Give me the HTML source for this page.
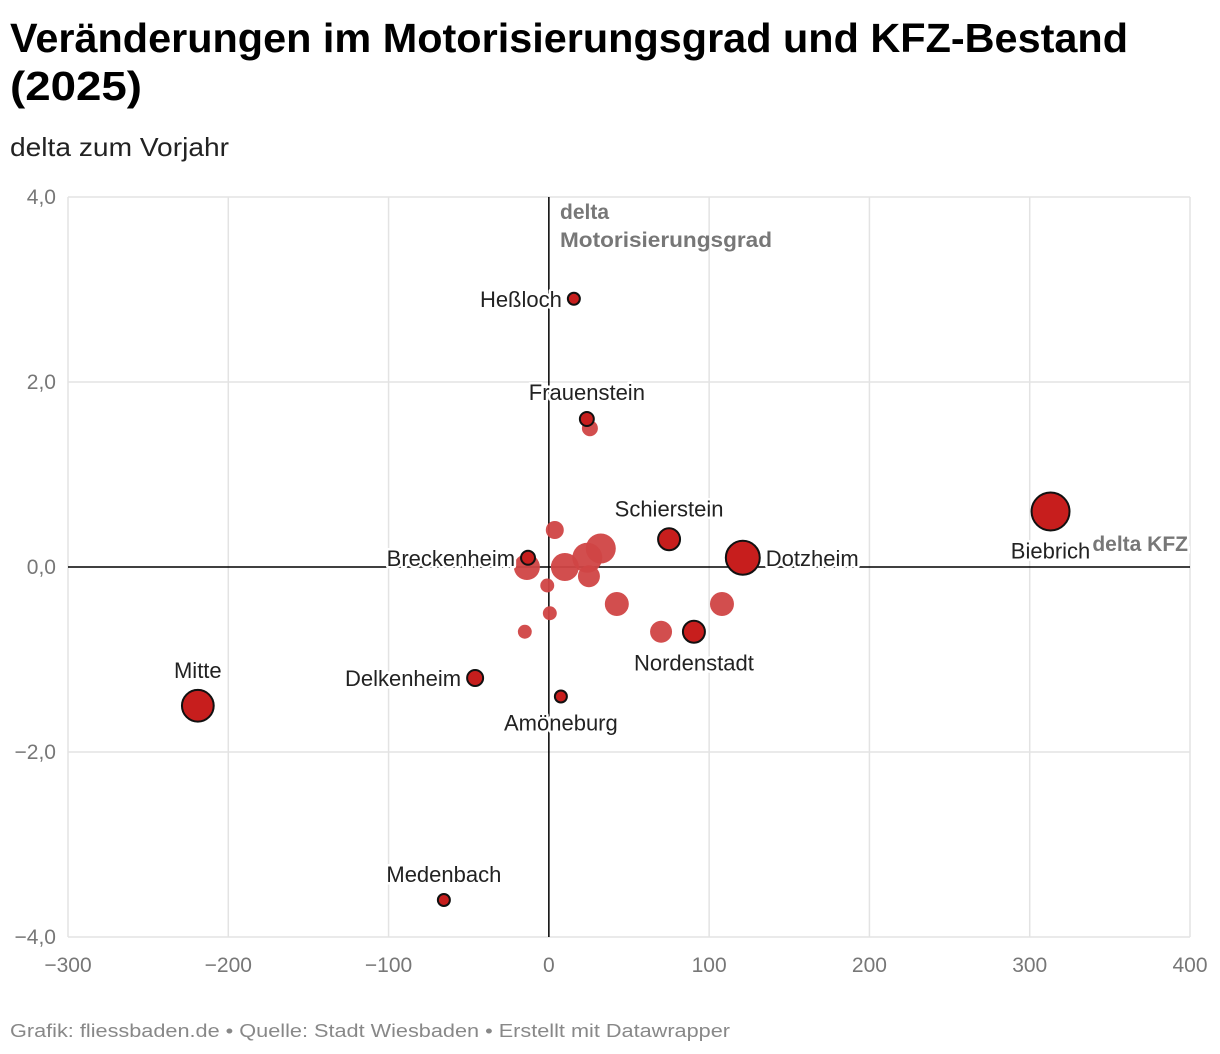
<!DOCTYPE html>
<html><head><meta charset="utf-8"><style>
html,body{margin:0;padding:0;background:#fff;}
svg{display:block;font-family:"Liberation Sans",sans-serif;}
.tick{fill:#777;font-size:21px;}
.lbl{fill:#222;font-size:22px;paint-order:stroke;stroke:#fff;stroke-width:5px;stroke-linejoin:round;}
</style></head><body>
<svg id="chart" width="1220" height="1054" viewBox="0 0 1220 1054">
<text x="10" y="52" font-size="41" font-weight="bold" fill="#000" textLength="1118" lengthAdjust="spacingAndGlyphs">Veränderungen im Motorisierungsgrad und KFZ-Bestand</text>
<text x="10" y="100" font-size="41" font-weight="bold" fill="#000" textLength="132" lengthAdjust="spacingAndGlyphs">(2025)</text>
<text x="10" y="156" font-size="26" fill="#222" textLength="219" lengthAdjust="spacingAndGlyphs">delta zum Vorjahr</text>
<g id="grid"></g>
<g id="axes"></g>
<g id="points"></g>
<g id="labels"></g>
<text x="560" y="219" font-size="21" font-weight="bold" fill="#777"><tspan x="560">delta</tspan><tspan x="560" dy="28" textLength="212" lengthAdjust="spacingAndGlyphs">Motorisierungsgrad</tspan></text>
<text x="1188" y="551" font-size="21" font-weight="bold" fill="#777" text-anchor="end" style="paint-order:stroke;stroke:#fff;stroke-width:5px">delta KFZ</text>
<text x="10" y="1037" font-size="18" fill="#888" textLength="720" lengthAdjust="spacingAndGlyphs">Grafik: fliessbaden.de • Quelle: Stadt Wiesbaden • Erstellt mit Datawrapper</text>
</svg>
<script>
const names = ["Heßloch","Frauenstein","Schierstein","Dotzheim","Biebrich","Breckenheim","Nordenstadt","Delkenheim","Amöneburg","Mitte","Medenbach","","","","","","","","","","","",""];
const deltaKfz = [15.6,23.7,75,121,313,-13,90.5,-46,7.5,-219,-65.5,3.7,-13.7,10,24,32.4,25,-1,0.6,-15,42.4,70,108,25.6];
const deltaMot = [2.9,1.6,0.3,0.1,0.6,0.1,-0.7,-1.2,-1.4,-1.5,-3.6,0.4,0,0,0.1,0.2,-0.1,-0.2,-0.5,-0.7,-0.4,-0.7,-0.4,1.5];
const sizeVals = [4,5.4,13.4,32,40,5.4,13.4,7.1,4,28,4,9,18.8,21.8,25,25,13.4,5.4,5.4,5.4,16,13.4,16,7.1];
const highlighted = [1,1,1,1,1,1,1,1,1,1,1,0,0,0,0,0,0,0,0,0,0,0,0,0];
const labelPos = ["left","top","top","right","bottom","left","bottom","left","bottom","top","top"];
const xTicks = [-300,-200,-100,0,100,200,300,400];
const yTicks = [4,2,0,-2,-4];
const yTickLabels = ["4,0","2,0","0,0","−2,0","−4,0"];
const xTickLabels = ["−300","−200","−100","0","100","200","300","400"];

const NS="http://www.w3.org/2000/svg";
const X0=68,X1=1190,Y0=197,Y1=937;
const xs=v=>X0+(v+300)/700*(X1-X0);
const ys=v=>Y1-(v+4)/8*(Y1-Y0);
const rs=v=>3*Math.sqrt(v);
function mk(tag,attrs,parent){const e=document.createElementNS(NS,tag);for(const k in attrs)e.setAttribute(k,attrs[k]);parent.appendChild(e);return e;}
const grid=document.getElementById('grid'),axes=document.getElementById('axes'),pts=document.getElementById('points'),lab=document.getElementById('labels');
xTicks.forEach((t,i)=>{
  if(t!==0){const l=mk('line',{x1:xs(t),x2:xs(t),y1:Y0,y2:Y1,stroke:'#e3e3e3','stroke-width':1.5},grid);
  
  }
  const tx=mk('text',{x:xs(t),y:972,'text-anchor':'middle',class:'tick'},axes);tx.textContent=xTickLabels[i];
  
  
});
yTicks.forEach((t,i)=>{
  if(t!==0){const l=mk('line',{x1:X0,x2:X1,y1:ys(t),y2:ys(t),stroke:'#e3e3e3','stroke-width':1.5},grid);
  
  }
  const tx=mk('text',{x:56,y:ys(t)+7,'text-anchor':'end',class:'tick'},axes);tx.textContent=yTickLabels[i];
  
  
});
const zx=mk('line',{x1:X0,x2:X1,y1:ys(0),y2:ys(0),stroke:'#000','stroke-width':1.5},axes);


const zy=mk('line',{x1:xs(0),x2:xs(0),y1:Y0,y2:Y1,stroke:'#000','stroke-width':1.5},axes);


const order=deltaKfz.map((_,i)=>i).sort((a,b)=>highlighted[a]-highlighted[b]);
order.forEach(i=>{
  const h=highlighted[i];
  const c=mk('circle',{cx:xs(deltaKfz[i]),cy:ys(deltaMot[i]),r:rs(sizeVals[i]),fill:h?'#c71e1d':'#d04445','fill-opacity':h?1:0.95,stroke:h?'#111':'none','stroke-width':h?2:0},pts);
  
  
});
labelPos.forEach((p,i)=>{
  const x=xs(deltaKfz[i]),y=ys(deltaMot[i]),r=rs(sizeVals[i]);
  let a='middle',tx=x,ty=y;
  if(p==='left'){a='end';tx=x-r-6;ty=y+8;}
  else if(p==='right'){a='start';tx=x+r+6;ty=y+8;}
  else if(p==='top'){ty=y-r-12;}
  else {ty=y+r+28;}
  const t=mk('text',{x:tx,y:ty,'text-anchor':a,class:'lbl'},lab);t.textContent=names[i];
  
  
});
</script>
</body></html>
